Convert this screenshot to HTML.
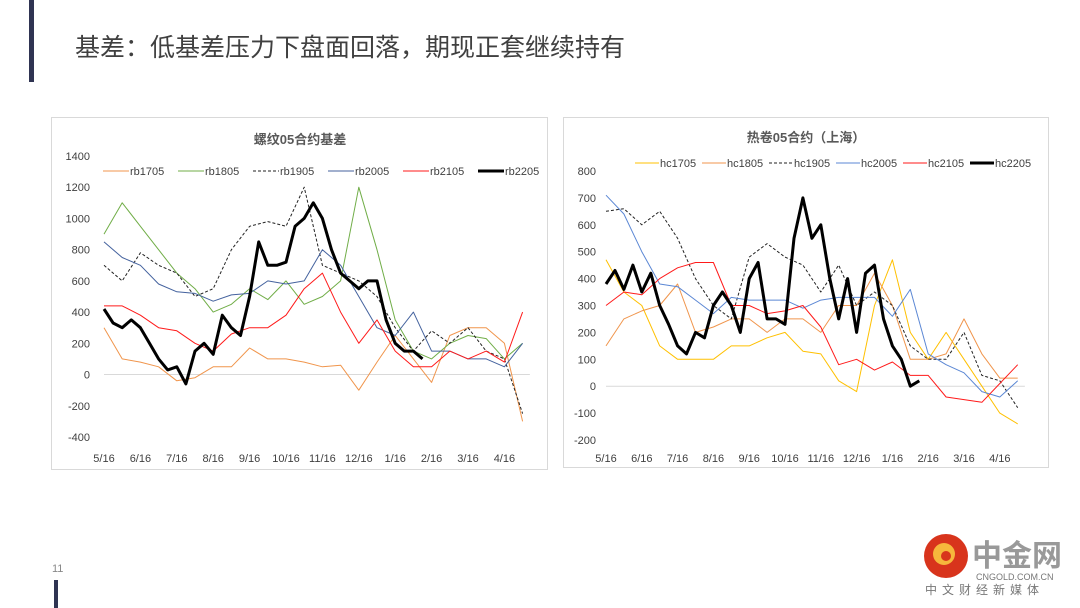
<!DOCTYPE html>
<html><head><meta charset="utf-8"><style>
html,body{margin:0;padding:0;background:#fff;width:1080px;height:608px;overflow:hidden}
svg{display:block;font-family:"Liberation Sans","Noto Sans CJK SC",sans-serif}
</style></head><body>
<svg id="s" width="1080" height="608" viewBox="0 0 1080 608">
<rect x="29" y="0" width="5" height="82" fill="#2f3452"/>
<text x="75" y="56" font-size="25" fill="#404040">基差：低基差压力下盘面回落，期现正套继续持有</text>
<text x="52" y="572" font-size="11" fill="#888">11</text>
<rect x="54" y="580" width="4" height="28" fill="#2f3452"/>
<g>
<circle cx="946" cy="556" r="22" fill="#d8341c"/>
<circle cx="944" cy="554" r="11" fill="#f6b73c"/>
<circle cx="946" cy="556" r="5" fill="#d8341c"/>
<text x="972" y="566" font-size="30" font-weight="bold" fill="#999">中金网</text>
<text x="976" y="580" font-size="9" fill="#777">CNGOLD.COM.CN</text>
<text x="925" y="594" font-size="12" fill="#777" letter-spacing="5">中文财经新媒体</text>
</g>
<rect x="51.5" y="117.5" width="496" height="352" fill="#fff" stroke="#d9d9d9"/>
<rect x="563.5" y="117.5" width="485" height="350" fill="#fff" stroke="#d9d9d9"/>
<g id="L"></g>
<g id="R"></g>
</svg>
<script>
const monthLabels=["5/16","6/16","7/16","8/16","9/16","10/16","11/16","12/16","1/16","2/16","3/16","4/16"];
const leftTicks=[1400,1200,1000,800,600,400,200,0,-200,-400];
const rightTicks=[800,700,600,500,400,300,200,100,0,-100,-200];
const leftNames=["rb1705","rb1805","rb1905","rb2005","rb2105","rb2205"];
const rightNames=["hc1705","hc1805","hc1905","hc2005","hc2105","hc2205"];
const rb1705=[300,100,80,50,-40,-20,50,50,170,100,100,80,50,60,-100,80,250,100,-50,250,300,300,200,-300];
const rb1805=[900,1100,950,800,650,550,400,450,550,480,600,450,500,600,1200,800,350,150,100,200,250,230,100,200];
const rb1905=[700,600,780,700,650,500,550,800,950,980,950,1200,700,650,600,500,300,150,280,200,300,150,100,-250];
const rb2005=[850,750,700,580,530,520,470,510,520,600,580,600,800,700,500,300,250,400,150,150,100,100,50,200];
const rb2105=[440,440,380,300,280,200,150,260,300,300,380,550,650,400,200,350,150,50,50,150,100,150,80,400];
const rb2205=[420,330,300,350,300,200,100,30,50,-60,150,200,130,380,300,250,500,850,700,700,720,950,1000,1100,1000,800,650,600,550,600,600,350,200,150,150,100];
const hc1705=[470,350,300,150,100,100,100,150,150,180,200,130,120,20,-20,300,470,200,100,200,100,0,-100,-140];
const hc1805=[150,250,280,300,380,200,220,250,250,200,250,250,200,300,300,420,300,100,100,120,250,120,30,30];
const hc1905=[650,660,600,650,550,400,300,250,480,530,480,450,350,450,300,350,300,150,100,100,200,40,20,-80];
const hc2005=[710,640,500,380,370,320,270,330,320,320,320,290,320,330,330,330,260,360,120,80,50,-20,-40,20];
const hc2105=[300,350,340,400,440,460,460,300,300,270,280,300,220,80,100,60,90,40,40,-40,-50,-60,10,80];
const hc2205=[380,430,360,450,350,420,300,230,150,120,200,180,300,350,300,200,400,460,250,250,230,550,700,550,600,400,250,400,200,420,450,250,150,100,0,20];
const leftSeries=[rb1705,rb1805,rb1905,rb2005,rb2105,rb2205];
const rightSeries=[hc1705,hc1805,hc1905,hc2005,hc2105,hc2205];
const NS="http://www.w3.org/2000/svg";
function mk(tag,attrs,parent){const e=document.createElementNS(NS,tag);for(const k in attrs)e.setAttribute(k,attrs[k]);parent.appendChild(e);return e;}
function chart(g,cfg){
  const xS=m=>cfg.x0+m*cfg.dx;
  const yS=v=>cfg.y0-(v-cfg.vmin)/(cfg.vmax-cfg.vmin)*(cfg.y0-cfg.y1);
  const t=mk("text",{x:cfg.cx,y:cfg.ty,"font-size":13,"font-weight":"bold",fill:"#595959","text-anchor":"middle"},g);t.textContent=cfg.title;
  
  
  cfg.ticks.forEach(v=>{const tt=mk("text",{x:cfg.tx,y:yS(v)+4,"font-size":11,fill:"#404040","text-anchor":"end"},g);tt.textContent=v;
    
    });
  const z=mk("line",{x1:xS(0),x2:xS(11.7),y1:yS(0),y2:yS(0),stroke:"#d9d9d9","stroke-width":1},g);
  
  
  monthLabels.forEach((l,i)=>{const tt=mk("text",{x:xS(i),y:cfg.xy,"font-size":11,fill:"#404040","text-anchor":"middle"},g);tt.textContent=l;
    
    });
  cfg.series.forEach((arr,si)=>{
    const st=cfg.styles[si];
    const step=st.w>2?0.25:0.5;
    const d=arr.map((v,i)=>(i?"L":"M")+xS(i*step).toFixed(1)+","+yS(v).toFixed(1)).join("");
    const p=mk("path",{d:d,fill:"none",stroke:st.c,"stroke-width":st.w,"stroke-dasharray":st.dash||"none","stroke-linejoin":"round"},g);
    
    
    const lx=cfg.lx+si*cfg.ldx;
    const ll=mk("line",{x1:lx,x2:lx+cfg.llen,y1:cfg.ly,y2:cfg.ly,stroke:st.c,"stroke-width":st.w,"stroke-dasharray":st.dash||"none"},g);
    
    
    const lt=mk("text",{x:lx+cfg.llen+1,y:cfg.ly+4,"font-size":11,fill:"#404040"},g);lt.textContent=cfg.names[si];
    
    
  });
}
const lStyles=[{c:"#f0954c",w:1},{c:"#70ad47",w:1},{c:"#222",w:1,dash:"3,2"},{c:"#44629e",w:1},{c:"#ff1a1a",w:1},{c:"#000",w:3}];
const rStyles=[{c:"#ffc000",w:1},{c:"#f0954c",w:1},{c:"#222",w:1,dash:"3,2"},{c:"#5b87d4",w:1},{c:"#ff1a1a",w:1},{c:"#000",w:3}];
chart(document.getElementById("L"),{x0:104,dx:36.4,y0:437,y1:156,vmin:-400,vmax:1400,ticks:leftTicks,tx:90,xy:462,cx:300,ty:144,title:"螺纹05合约基差",series:leftSeries,names:leftNames,styles:lStyles,lx:103,ldx:75,llen:26,ly:171});
chart(document.getElementById("R"),{x0:606,dx:35.8,y0:440,y1:171,vmin:-200,vmax:800,ticks:rightTicks,tx:596,xy:462,cx:806,ty:142,title:"热卷05合约（上海）",series:rightSeries,names:rightNames,styles:rStyles,lx:635,ldx:67,llen:24,ly:163});
</script>
</body></html>
